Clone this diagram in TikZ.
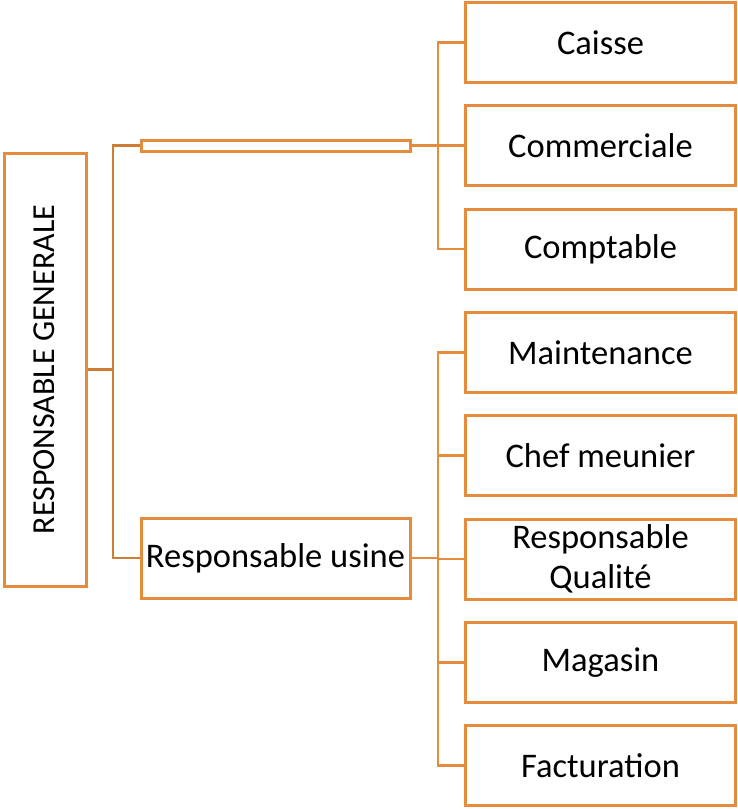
\documentclass[tikz,border=0pt]{standalone}
\usepackage{fontspec}
\setmainfont{Carlito}
\definecolor{boxor}{HTML}{E58B3E}
\definecolor{lineor}{HTML}{CF7C35}
\begin{document}
\begin{tikzpicture}[x=1pt,y=-1pt,
  unit/.style={draw=boxor,line width=3pt,fill=white,inner sep=0pt,
     minimum width=270pt,minimum height=80pt,align=center,
     font=\fontsize{34.5}{40}\selectfont},
  conn/.style={draw=boxor,line width=2.7pt},
  conndark/.style={draw=lineor,line width=2.7pt}]
\useasboundingbox (0,0) rectangle (737,809);
% root
\node[draw=boxor,line width=3pt,inner sep=0pt,minimum width=82pt,minimum height=433pt] (rg) at (45,369.5) {};
\node[rotate=90,font=\fontsize{32}{36}\selectfont] (rgt) at (44.5,369.5) {RESPONSABLE GENERALE};
% level 2
\node[unit,minimum width=269pt,minimum height=11pt] (thin) at (275.5,145.5) {};
\node[unit,minimum width=269pt] (usine) at (275.5,558) {Responsable usine};
% level 3
\node[unit] (caisse) at (600.5,42.5) {Caisse};
\node[unit] (comm) at (600.5,145.8) {Commerciale};
\node[unit] (compt) at (600.5,249.1) {Comptable};
\node[unit] (maint) at (600.5,352.4) {Maintenance};
\node[unit] (chef) at (600.5,455.7) {Chef meunier};
\node[unit] (qual) at (600.5,559) {Responsable\\Qualité};
\node[unit] (mag) at (600.5,662.3) {Magasin};
\node[unit] (fact) at (600.5,765.6) {Facturation};
% spines
\coordinate (s1) at (113,369.5);
\coordinate (s2) at (438,145.5);
\coordinate (s3) at (438,558);
\draw[conndark] (rg.east) -- (s1);
\draw[conndark] (thin.west) -| (s1);
\draw[conndark] (usine.west) -| (s1);
\draw[conn] (thin.east) -- (s2);
\draw[conn] (caisse.west) -| (s2);
\draw[conn] (comm.west) -- (comm.west -| s2);
\draw[conn] (compt.west) -| (s2);
\draw[conn] (usine.east) -- (s3);
\draw[conn] (maint.west) -| (s3);
\draw[conn] (chef.west) -| (s3);
\draw[conn] (qual.west) -- (qual.west -| s3);
\draw[conn] (mag.west) -| (s3);
\draw[conn] (fact.west) -| (s3);
\end{tikzpicture}
\end{document}
